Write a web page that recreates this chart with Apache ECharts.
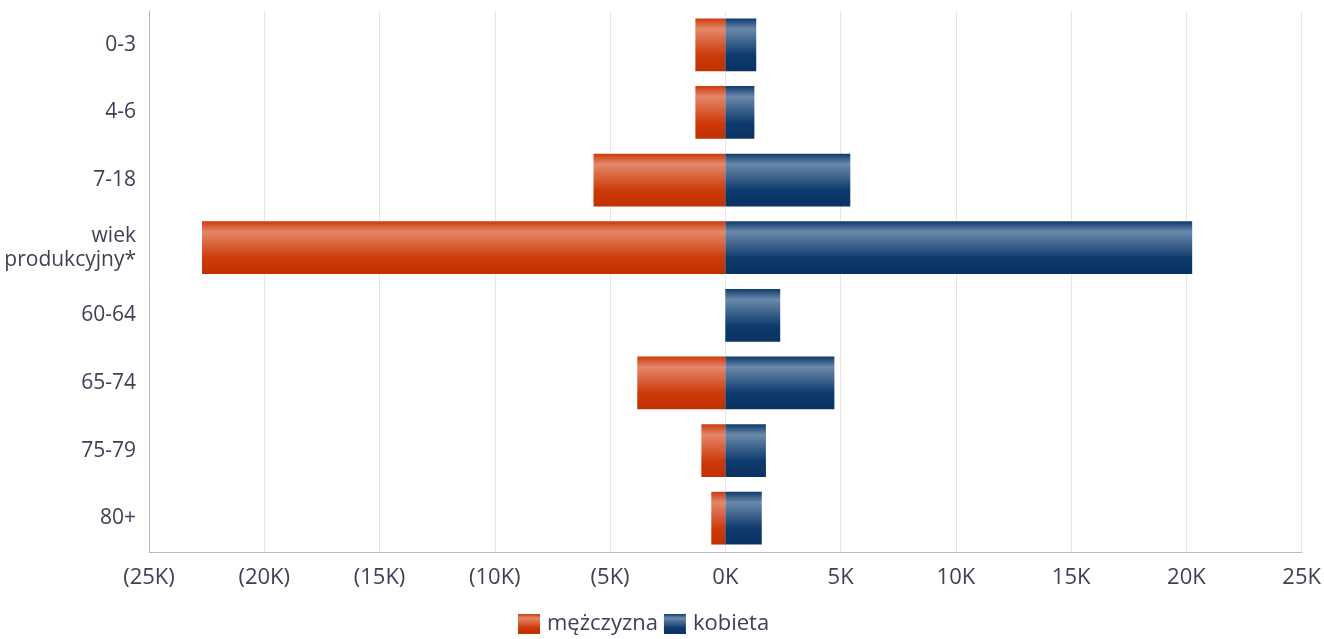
<!DOCTYPE html>
<html><head><meta charset="utf-8">
<script src="https://cdn.jsdelivr.net/npm/echarts@6/dist/echarts.min.js"></script>
<style>html,body{margin:0;padding:0;background:#fff}#c{width:1324px;height:639px}</style>
</head><body><div id="c"></div>
<script>
const categories = ['0-3','4-6','7-18','wiek\nprodukcyjny*','60-64','65-74','75-79','80+'];
const male = [1300, 1300, 5720, 22700, 0, 3820, 1040, 610];
const female = [1340, 1260, 5420, 20250, 2380, 4730, 1760, 1580];

function grad(base, light, dark){
  return new echarts.graphic.LinearGradient(0,0,0,1,[
    {offset:0, color:base},{offset:0.2, color:light},{offset:0.7, color:base},{offset:1, color:dark}]);
}
const chart = echarts.init(document.getElementById('c'));
const txt = '#3d4157';
chart.setOption({
  animation:false,
  textStyle:{fontFamily:'Open Sans'},
  grid:{left:149,right:22,top:11,bottom:87,containLabel:false},
  legend:{top:613,left:518,padding:0,itemWidth:22,itemHeight:20,itemGap:6,icon:'rect',
    textStyle:{fontSize:22,color:txt,fontFamily:'Open Sans',padding:[0,0,0,2]},
    data:['mężczyzna','kobieta']},
  xAxis:{type:'value',min:-25000,max:25000,interval:5000,
    axisLine:{show:true,lineStyle:{color:'#b8b8c8'}},axisTick:{show:false},
    splitLine:{show:true,lineStyle:{color:'#e6e6ea'}},
    axisLabel:{fontSize:22,color:txt,margin:15,formatter:v=>v<0?'('+(-v/1000)+'K)':(v/1000)+'K'}},
  yAxis:{type:'category',data:categories,inverse:true,
    axisLine:{show:true,onZero:false,lineStyle:{color:'#b8b8c8'}},axisTick:{show:false},
    axisLabel:{fontSize:21,color:txt,margin:13,lineHeight:24,align:'right',padding:[4,0,0,0]}},
  series:[
    {name:'mężczyzna',type:'bar',stack:'t',barWidth:'78%',data:male.map(v=>-v),
     itemStyle:{color:grad('#cd3a0a','#e3876a','#c03000')}},
    {name:'kobieta',type:'bar',stack:'t',barWidth:'78%',data:female,
     itemStyle:{color:grad('#0d3a6c','#6b89aa','#0a3262')}}
  ]
});
</script></body></html>
